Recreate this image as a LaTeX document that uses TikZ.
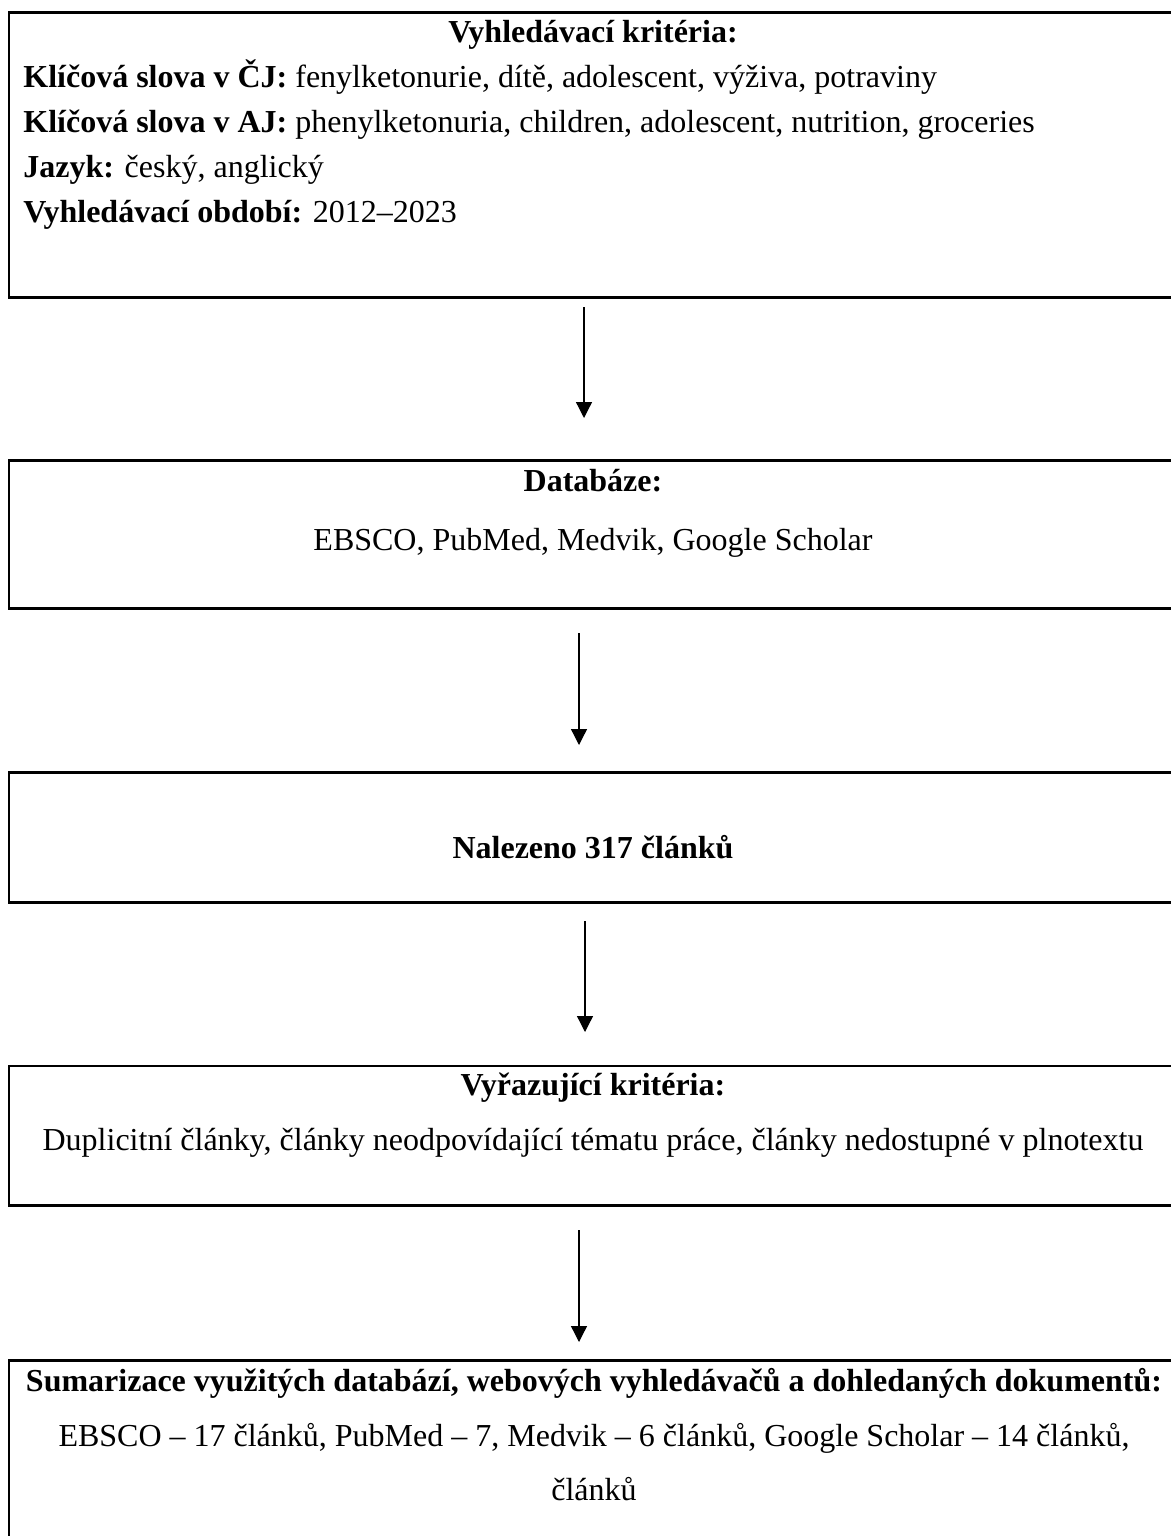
\documentclass[tikz,border=0pt]{standalone}
\usepackage{fontspec}
\setmainfont{Liberation Serif}
\usetikzlibrary{arrows.meta,fit}
\begin{document}
\begin{tikzpicture}[x=0.5pt,y=-0.5pt,
  box/.style={draw=black, line width=1.1pt, inner sep=0pt},
  txt/.style={inner sep=0pt, font=\fontsize{16}{19}\selectfont},
  ctr/.style={txt, anchor=base},
  lft/.style={txt, anchor=base west},
  arr/.style={draw=black, line width=0.65pt, -{Triangle[width=8pt,length=8pt]}}]
\useasboundingbox (0,0) rectangle (1171,1536);
\clip (0,0) rectangle (1171,1536);
\fill[white] (0,0) rectangle (1171,1536);

% boxes
\node[box, fit={(9,12.5) (1177,297.5)}] (b1) {};
\node[box, fit={(9,460.5) (1177,608.5)}] (b2) {};
\node[box, fit={(9,772.5) (1177,902.5)}] (b3) {};
\node[box, fit={(9,1066) (1177,1205.5)}] (b4) {};
\node[box, fit={(9,1360.5) (1177,1560)}] (b5) {};

% box 1 text
\node[ctr] (t11) at (593,43) {\textbf{Vyhledávací kritéria:}};
\node[lft] (t12) at (23,88) {\textbf{Klíčová slova v ČJ:} fenylketonurie, dítě, adolescent, výživa, potraviny};
\node[lft] (t13) at (23,133) {\textbf{Klíčová slova v AJ:} phenylketonuria, children, adolescent, nutrition, groceries};
\node[lft] (t14) at (23,177) {\textbf{Jazyk:} český, anglický};
\node[lft] (t15) at (23,222) {\textbf{Vyhledávací období:} 2012–2023};

% box 2 text
\node[ctr] (t21) at (593,491) {\textbf{Databáze:}};
\node[ctr] (t22) at (593,550) {EBSCO, PubMed, Medvik, Google Scholar};

% box 3 text
\node[ctr] (t31) at (593,858) {\textbf{Nalezeno 317 článků}};

% box 4 text
\node[ctr] (t41) at (593,1095) {\textbf{Vyřazující kritéria:}};
\node[ctr] (t42) at (593,1150) {Duplicitní články, články neodpovídající tématu práce, články nedostupné v plnotextu};

% box 5 text
\node[ctr] (t51) at (594,1391) {\textbf{Sumarizace využitých databází, webových vyhledávačů a dohledaných dokumentů:}};
\node[ctr] (t52) at (594,1446) {EBSCO – 17 článků, PubMed – 7, Medvik – 6 článků, Google Scholar – 14 článků,};
\node[ctr] (t53) at (594,1500) {článků};

% arrow end points
\coordinate (a1s) at (584,307);
\coordinate (a1e) at (584,418);
\coordinate (a2s) at (579,633);
\coordinate (a2e) at (579,745);
\coordinate (a3s) at (585,921);
\coordinate (a3e) at (585,1032);
\coordinate (a4s) at (579,1230);
\coordinate (a4e) at (579,1342);

\draw[arr] (a1s) -- (a1e);
\draw[arr] (a2s) -- (a2e);
\draw[arr] (a3s) -- (a3e);
\draw[arr] (a4s) -- (a4e);
\end{tikzpicture}
\end{document}
